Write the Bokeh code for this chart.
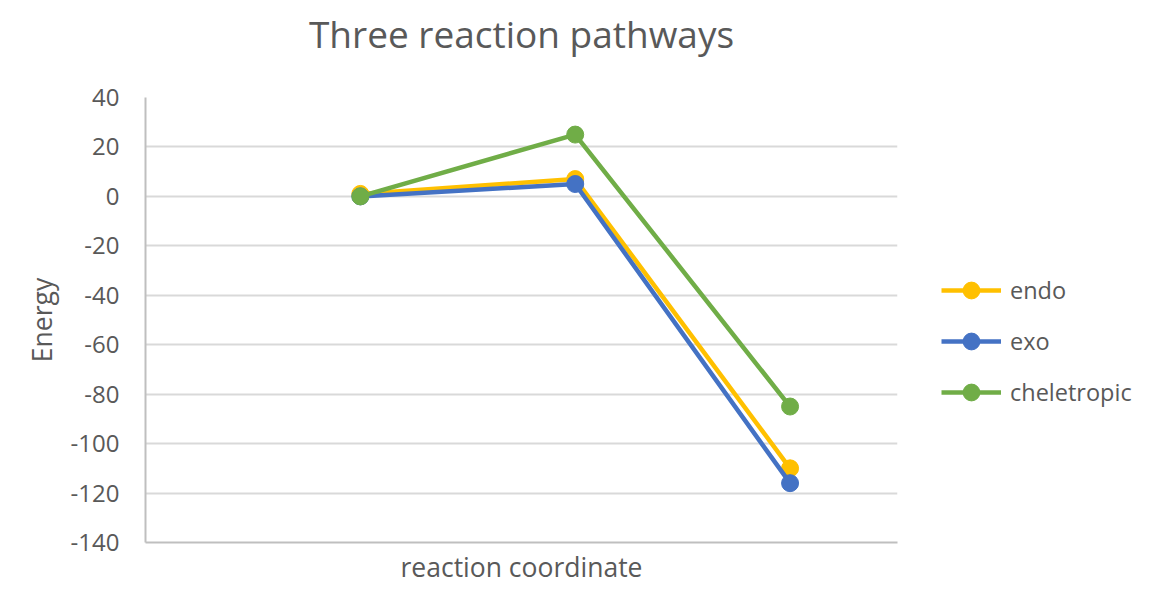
from bokeh.plotting import figure
from bokeh.models import (Range1d, Legend, LegendItem, FixedTicker, CustomJSTickFormatter,
                          LinearAxis, Title)
from bokeh.embed import file_html
from bokeh.resources import INLINE

# Data
steps = [1, 2, 3]
endo = [1, 7, -110]
exo = [0, 5, -116]
cheletropic = [0, 25, -85]
series_names = ["endo", "exo", "cheletropic"]
series_colors = ["#FFC000", "#4472C4", "#70AD47"]
y_ticks = [40, 20, 0, -20, -40, -60, -80, -100, -120, -140]

FONT = "Open Sans"
TXT = "#595959"

p = figure(frame_width=752, frame_height=445, output_backend="svg", toolbar_location=None,
           x_range=Range1d(0, 3.5), y_range=Range1d(-140, 40), title=None,
           min_border_left=145, min_border_right=248, min_border_top=97, min_border_bottom=47)

p.outline_line_color = None
p.background_fill_color = "white"
p.border_fill_color = "white"

xa = p.below[0]
ya = p.left[0]

# invisible spacer axis between the frame and the title
spacer = LinearAxis(ticker=FixedTicker(ticks=[1.75]),
                    formatter=CustomJSTickFormatter(code="return '';"),
                    axis_line_color=None, major_tick_line_color=None, minor_tick_line_color=None,
                    major_tick_in=0, major_tick_out=34, minor_tick_out=0, major_label_standoff=0)
p.add_layout(spacer, "above")

title = Title(text="Three reaction pathways", text_font=FONT, text_font_size="37px",
              text_font_style="normal", text_color=TXT, align="center", standoff=10)
p.add_layout(title, "above")

xa.ticker = FixedTicker(ticks=[])
xa.axis_label = "reaction coordinate"
xa.axis_label_text_font = FONT
xa.axis_label_text_font_size = "26.5px"
xa.axis_label_text_font_style = "normal"
xa.axis_label_text_color = TXT
xa.axis_label_standoff = 6
xa.axis_line_color = "#BFBFBF"
xa.axis_line_width = 2
xa.major_tick_line_color = None
xa.minor_tick_line_color = None
xa.major_tick_out = 0
xa.minor_tick_out = 0

ya.ticker = FixedTicker(ticks=y_ticks)
ya.formatter = CustomJSTickFormatter(code="return tick.toString();")
ya.axis_label = "Energy"
ya.axis_label_text_font = FONT
ya.axis_label_text_font_size = "26.5px"
ya.axis_label_text_font_style = "normal"
ya.axis_label_text_color = TXT
ya.axis_label_standoff = 8
ya.major_label_text_font = FONT
ya.major_label_text_font_size = "24px"
ya.major_label_text_color = TXT
ya.major_label_standoff = 26
ya.axis_line_color = "#BFBFBF"
ya.axis_line_width = 2
ya.major_tick_line_color = None
ya.minor_tick_line_color = None
ya.major_tick_out = 0
ya.minor_tick_out = 0

p.xgrid.grid_line_color = None
p.ygrid.ticker = FixedTicker(ticks=y_ticks)
p.ygrid.grid_line_color = "#D9D9D9"
p.ygrid.grid_line_width = 2

items = []
for name, ys, col in zip(series_names, [endo, exo, cheletropic], series_colors):
    l = p.line(steps, ys, line_color=col, line_width=4.5)
    c = p.scatter(steps, ys, size=17, fill_color=col, line_color=col)
    items.append(LegendItem(label=name, renderers=[l, c]))

legend = Legend(items=items, location=(44, 129), orientation="vertical")
legend.border_line_color = None
legend.background_fill_alpha = 0
legend.padding = 0
legend.margin = 0
legend.spacing = 9
legend.glyph_width = 60
legend.glyph_height = 42
legend.label_height = 42
legend.label_standoff = 9
legend.label_text_font = FONT
legend.label_text_font_size = "23.5px"
legend.label_text_color = TXT
legend.label_text_baseline = "middle"
p.add_layout(legend, "right")

open("out.html", "w").write(file_html(p, INLINE))
